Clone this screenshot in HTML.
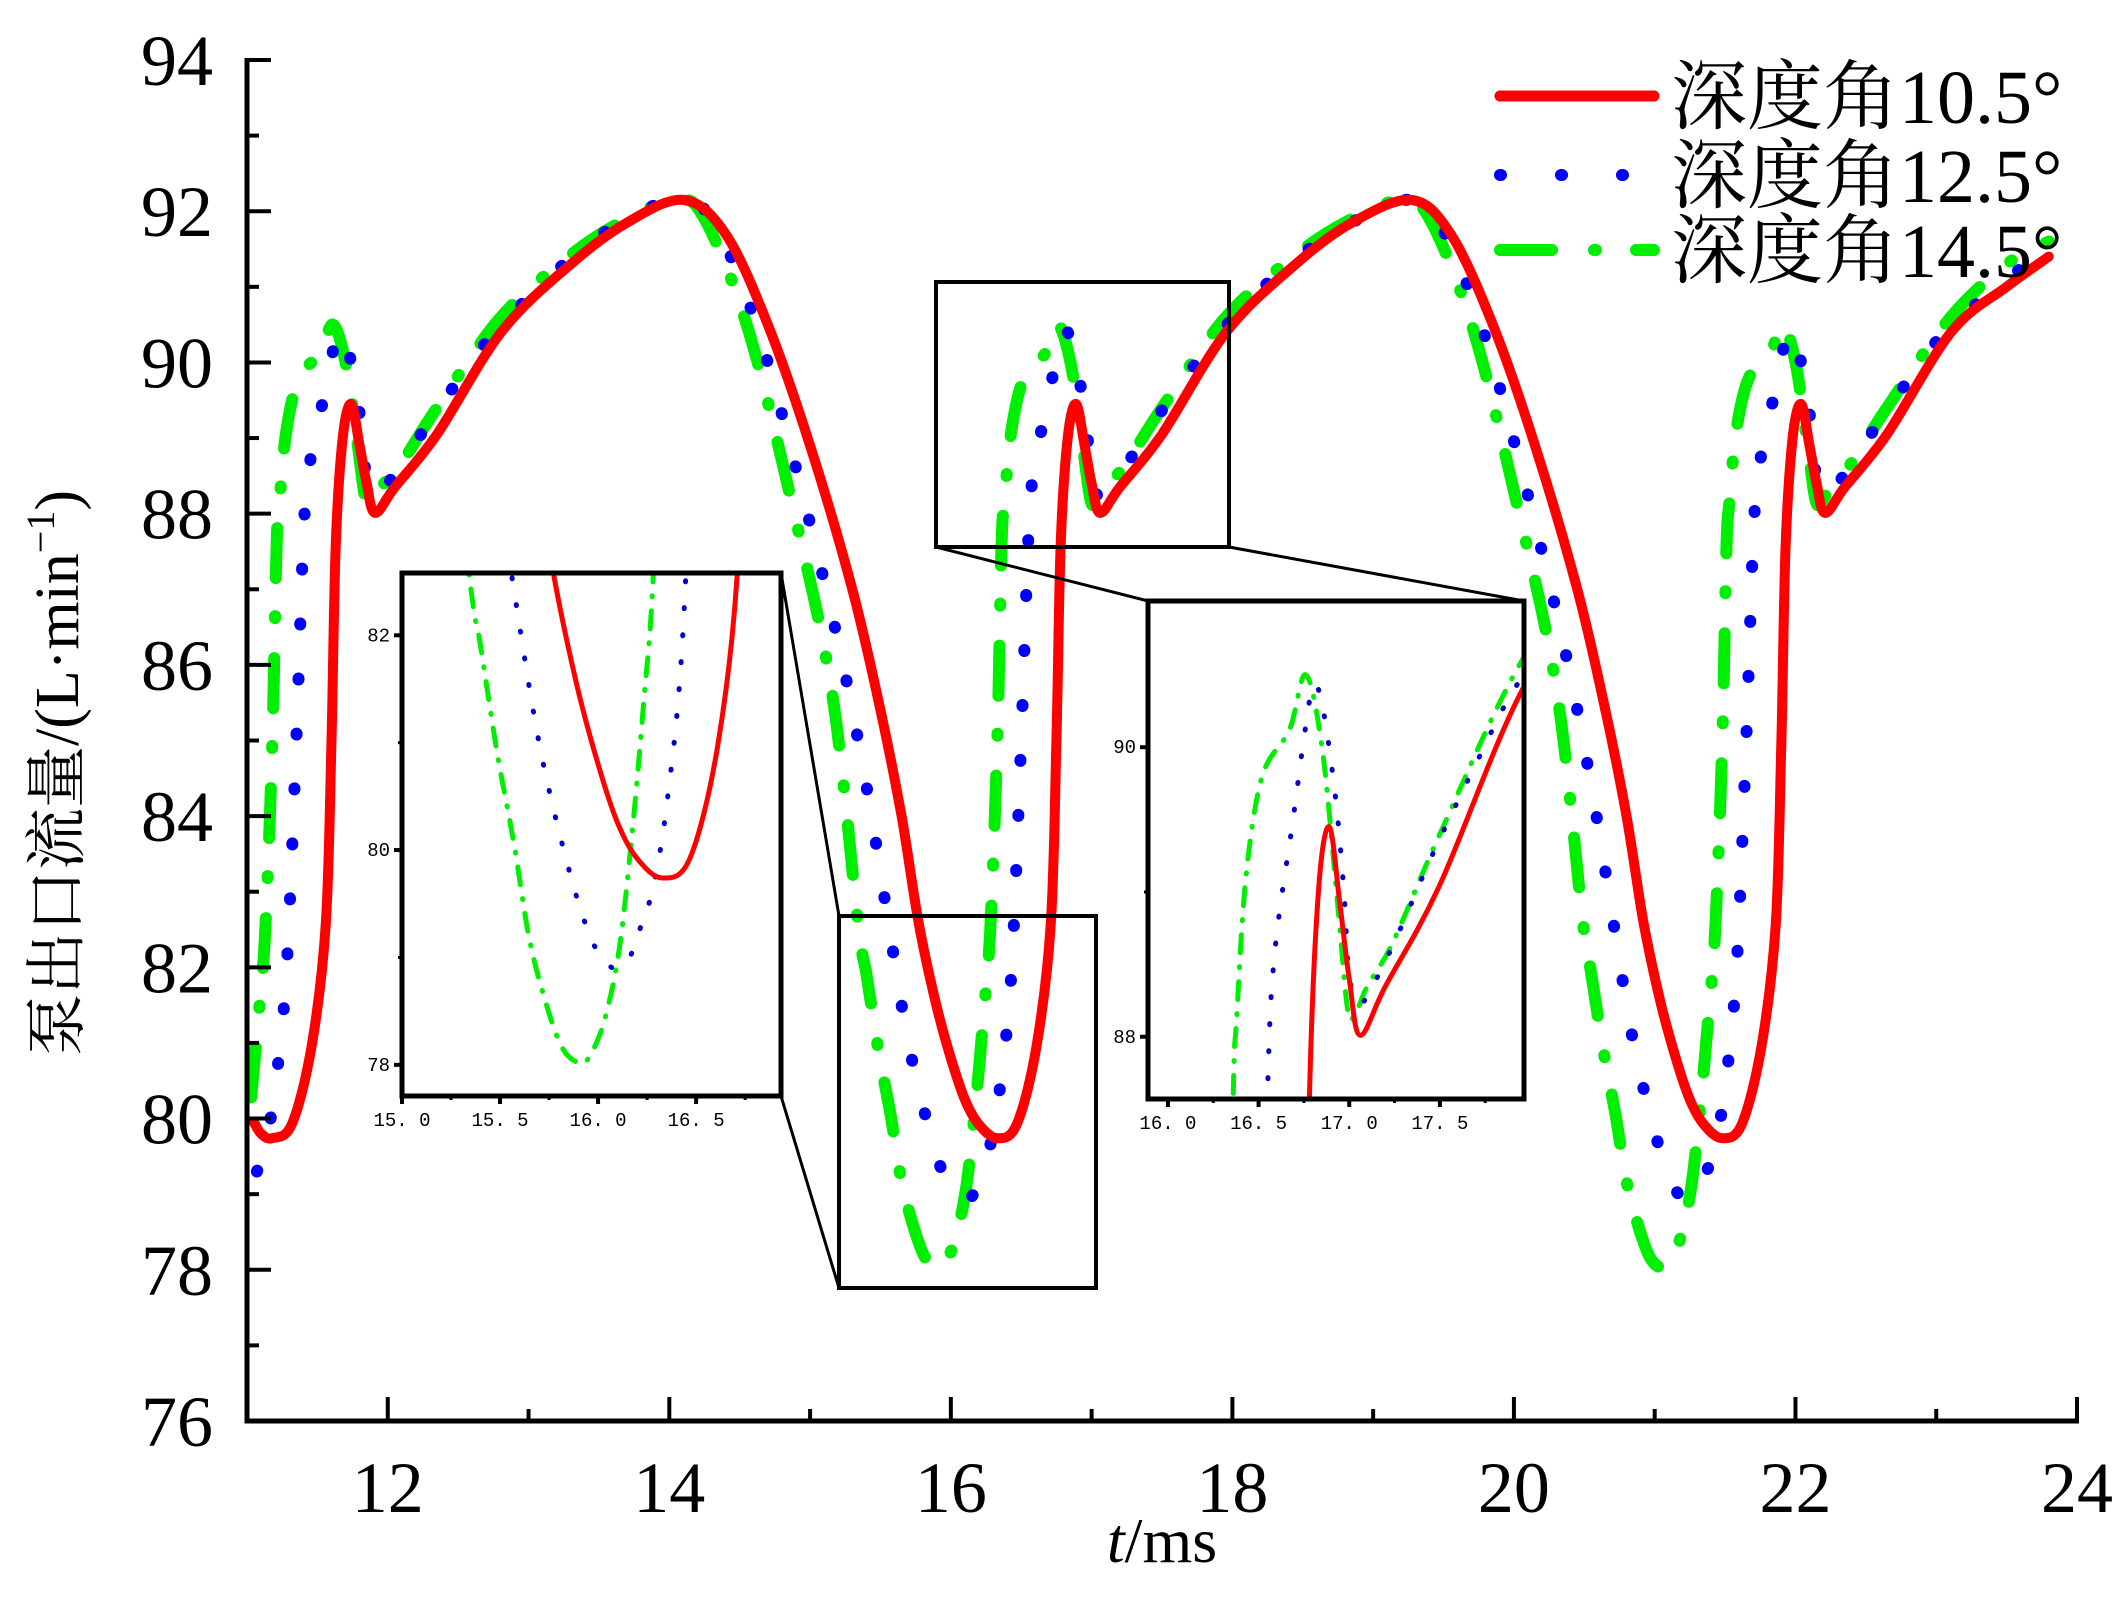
<!DOCTYPE html>
<html><head><meta charset="utf-8"><style>
html,body{margin:0;padding:0;background:#fff;overflow:hidden;width:2118px;height:1623px;}
svg{display:block;}
text{font-family:"Liberation Serif","Noto Serif CJK SC",serif;fill:#000;}
.mono{font-family:"Liberation Mono","Noto Sans CJK SC",monospace;}
</style></head><body>
<svg id="chart" width="2118" height="1623" viewBox="0 0 2118 1623" xmlns="http://www.w3.org/2000/svg">
<defs>
<clipPath id="clipMain"><rect x="247" y="20" width="1830" height="1401"/></clipPath>
<clipPath id="clipIn1"><rect x="402" y="573" width="379" height="523"/></clipPath>
<clipPath id="clipIn2"><rect x="1148" y="601" width="376" height="498"/></clipPath>
</defs>
<g id="main"></g>
<g id="boxes"></g>
<g id="inset1"></g>
<g id="inset2"></g>
<g id="legend"></g>
<text transform="translate(78,773) rotate(-90)" text-anchor="middle" font-size="62">泵出口流量/(L·min<tspan font-size="40" dy="-24">−1</tspan><tspan dy="24">)</tspan></text>
<text x="1162" y="1562" text-anchor="middle" font-size="64"><tspan font-style="italic">t</tspan>/ms</text>
</svg>
<script>
const xTicks = [12,14,16,18,20,22,24];
const yTicks = [76,78,80,82,84,86,88,90,92,94];
const seriesNames = ["深度角10.5°","深度角12.5°","深度角14.5°"];
const redT = [11.05,11.1,11.18,11.32,11.46,11.56,11.6,11.63,11.68,11.74,11.8,11.85,11.91,12.05,12.35,12.81,13.3,13.7,14.1,14.4,14.7,15.0,15.3,15.5,15.65,15.77,15.89,16.0,16.1,16.2,16.33,16.47,16.61,16.71,16.75,16.78,16.83,16.89,16.95,17.0,17.06,17.2,17.5,17.96,18.45,18.85,19.27,19.55,19.85,20.15,20.45,20.65,20.8,20.92,21.04,21.15,21.25,21.35,21.48,21.62,21.76,21.86,21.9,21.93,21.98,22.04,22.1,22.15,22.21,22.35,22.65,23.11,23.5,23.8];
const redV = [79.95,79.8,79.74,79.93,80.97,82.58,85,87.57,89.0,89.45,88.9,88.4,88.01,88.35,89.05,90.41,91.3,91.85,92.15,91.7,90.5,88.9,87.0,85.4,84.0,82.6,81.55,80.8,80.25,79.92,79.74,79.93,80.97,82.58,85,87.57,89.0,89.45,88.9,88.4,88.01,88.35,89.05,90.41,91.3,91.85,92.15,91.7,90.5,88.9,87.0,85.4,84.0,82.6,81.55,80.8,80.25,79.92,79.74,79.93,80.97,82.58,85,87.57,89.0,89.45,88.9,88.4,88.01,88.35,89.05,90.41,91.0,91.4];
const blueT = [11.07,11.13,11.2,11.28,11.35,11.4,11.44,11.54,11.6,11.65,11.7,11.77,11.82,11.85,11.91,12.0,12.13,12.31,12.57,12.78,13.25,13.65,14.05,14.3,14.6,14.9,15.2,15.4,15.56,15.67,15.755,15.86,15.94,16.0,16.08,16.16,16.22,16.28,16.35,16.43,16.5,16.55,16.59,16.69,16.75,16.8,16.85,16.92,16.97,17.0,17.06,17.15,17.28,17.46,17.72,17.93,18.4,18.85,19.22,19.45,19.75,20.05,20.35,20.55,20.71,20.82,20.905,21.01,21.09,21.15,21.23,21.31,21.37,21.43,21.5,21.58,21.65,21.7,21.74,21.84,21.9,21.95,22.0,22.07,22.12,22.15,22.21,22.3,22.43,22.61,22.87,23.08,23.5,23.8];
const blueV = [79.3,79.65,80.42,81.94,85.0,87.66,88.59,89.5,90.06,90.42,90.3,89.7,89.02,88.42,88.23,88.4,88.74,89.26,89.94,90.44,91.3,91.85,92.15,91.9,90.6,88.6,86.3,84.4,82.55,81.29,80.52,79.76,79.29,79.05,78.9,79.0,79.3,79.65,80.42,81.94,85.0,87.66,88.59,89.5,90.06,90.42,90.3,89.7,89.02,88.42,88.23,88.4,88.74,89.26,89.94,90.44,91.3,91.85,92.15,91.9,90.6,88.6,86.3,84.4,82.55,81.29,80.52,79.76,79.29,79.05,78.9,79.0,79.3,79.65,80.42,81.94,85.0,87.66,88.59,89.5,90.06,90.42,90.3,89.7,89.02,88.42,88.23,88.4,88.74,89.26,89.94,90.44,91.1,91.5];
const greenT = [11.03,11.08,11.13,11.18,11.21,11.23,11.28,11.37,11.52,11.61,11.7,11.78,11.84,11.88,11.95,12.09,12.35,12.79,13.25,13.65,14.05,14.25,14.55,14.85,15.15,15.34,15.4,15.485,15.57,15.65,15.74,15.82,15.9,15.95,16.03,16.11,16.18,16.23,16.28,16.33,16.36,16.38,16.43,16.52,16.67,16.76,16.85,16.93,16.99,17.03,17.1,17.24,17.5,17.94,18.4,18.8,19.2,19.4,19.7,20.0,20.3,20.49,20.55,20.635,20.72,20.8,20.89,20.97,21.05,21.1,21.18,21.26,21.33,21.38,21.43,21.48,21.51,21.53,21.58,21.67,21.82,21.91,22.0,22.08,22.14,22.18,22.25,22.39,22.65,23.09,23.5,23.8];
const greenV = [80.28,81.32,82.5,85.0,87.57,88.14,89.1,89.8,90.12,90.5,90.0,89.0,88.2,88.15,88.35,88.65,89.4,90.57,91.35,91.85,92.15,91.9,90.5,88.3,85.7,82.6,81.91,80.91,80.07,79.17,78.54,78.15,78.02,78.06,78.4,79.1,80.28,81.32,82.5,85.0,87.57,88.14,89.1,89.8,90.12,90.5,90.0,89.0,88.2,88.15,88.35,88.65,89.4,90.57,91.35,91.85,92.15,91.9,90.5,88.3,85.7,82.6,81.91,80.91,80.07,79.17,78.54,78.15,78.02,78.06,78.4,79.1,80.28,81.32,82.5,85.0,87.57,88.14,89.1,89.8,90.12,90.5,90.0,89.0,88.2,88.15,88.35,88.65,89.4,90.57,91.3,91.6];
const inset1XTicks = [15.0,15.5,16.0,16.5];
const inset1YTicks = [78,80,82];
const inset2XTicks = [16.0,16.5,17.0,17.5];
const inset2YTicks = [88,90];

const NS="http://www.w3.org/2000/svg";
function mk(tag,parent,attrs){const e=document.createElementNS(NS,tag);for(const k in attrs)e.setAttribute(k,attrs[k]);parent.appendChild(e);return e;}
function scale(d0,d1,r0,r1){return v=>r0+(v-d0)/(d1-d0)*(r1-r0);}
function pathD(ts,vs,sx,sy){
  const p=ts.map((t,i)=>[sx(t),sy(vs[i])]);
  let d="M"+p[0][0].toFixed(1)+","+p[0][1].toFixed(1);
  for(let i=0;i<p.length-1;i++){
    const p0=p[i-1]||p[i],p1=p[i],p2=p[i+1],p3=p[i+2]||p2;
    const c1=[p1[0]+(p2[0]-p0[0])/6,p1[1]+(p2[1]-p0[1])/6];
    const c2=[p2[0]-(p3[0]-p1[0])/6,p2[1]-(p3[1]-p1[1])/6];
    d+="C"+c1[0].toFixed(1)+","+c1[1].toFixed(1)+" "+c2[0].toFixed(1)+","+c2[1].toFixed(1)+" "+p2[0].toFixed(1)+","+p2[1].toFixed(1);
  }
  return d;
}
const seriesT=[redT,blueT,greenT], seriesV=[redV,blueV,greenV];
const colors=["#ff0000","#0000ff","#00ee00"];

const main=document.getElementById("main");
const X=scale(11,24,247,2077), Y=scale(76,94,1421,60);
const mainStyles=[{w:10,dash:null},{w:12,dash:"1 54"},{w:12,dash:"50 40 2 38"}];
const mclip=mk("g",main,{"clip-path":"url(#clipMain)"});
[2,1,0].forEach(i=>{
  const el=mk("path",mclip,{d:pathD(seriesT[i],seriesV[i],X,Y),fill:"none",stroke:colors[i],"stroke-width":mainStyles[i].w,"stroke-linecap":"round","stroke-linejoin":"round"});
  if(mainStyles[i].dash)el.setAttribute("stroke-dasharray",mainStyles[i].dash);
  
  
});
const ax=mk("g",main,{});


mk("path",ax,{d:"M247,58 V1421 H2079",fill:"none",stroke:"#000","stroke-width":5});
for(let v=76;v<=94;v++){const y=Y(v);const len=(v%2===0)?24:12;mk("line",ax,{x1:247,x2:247+len,y1:y,y2:y,stroke:"#000","stroke-width":4});}
for(let t=11;t<=24;t++){const x=X(t);const len=(t%2===0)?24:12;if(t>11)mk("line",ax,{x1:x,x2:x,y1:1421,y2:1421-len,stroke:"#000","stroke-width":4});}
yTicks.forEach(v=>{
  const tx=mk("text",ax,{x:213,y:Y(v)+25,"text-anchor":"end","font-size":72});
  tx.textContent=v;
  
  
});
xTicks.forEach(t=>{
  const tx=mk("text",ax,{x:X(t),y:1512,"text-anchor":"middle","font-size":72});
  tx.textContent=t;
  
  
});

const boxes=document.getElementById("boxes");
mk("rect",boxes,{x:839,y:916,width:257,height:372,fill:"none",stroke:"#000","stroke-width":4});
mk("rect",boxes,{x:936,y:282,width:293,height:265,fill:"none",stroke:"#000","stroke-width":4});
mk("line",boxes,{x1:781,y1:573,x2:839,y2:916,stroke:"#000","stroke-width":3});
mk("line",boxes,{x1:781,y1:1096,x2:839,y2:1288,stroke:"#000","stroke-width":3});
mk("line",boxes,{x1:936,y1:547,x2:1148,y2:601,stroke:"#000","stroke-width":3});
mk("line",boxes,{x1:1229,y1:547,x2:1524,y2:601,stroke:"#000","stroke-width":3});

function drawInset(g,clipId,bx,by,bw,bh,t0,t1,v0,v1,xt,yt,minorX,minorY){
  mk("rect",g,{x:bx,y:by,width:bw,height:bh,fill:"#fff"});
  const sx=scale(t0,t1,bx,bx+bw), sy=scale(v0,v1,by+bh,by);
  const cg=mk("g",g,{"clip-path":"url(#"+clipId+")"});
  const st=[{w:5,dash:null},{w:5,dash:"1 26"},{w:5,dash:"18 14 1 14"}];
  [2,1,0].forEach(i=>{
    const el=mk("path",cg,{d:pathD(seriesT[i],seriesV[i],sx,sy),fill:"none",stroke:i===1?"#0000cc":colors[i],"stroke-width":st[i].w,"stroke-linecap":"round","stroke-linejoin":"round"});
    if(st[i].dash)el.setAttribute("stroke-dasharray",st[i].dash);
    
    
  });
  mk("rect",g,{x:bx,y:by,width:bw,height:bh,fill:"none",stroke:"#000","stroke-width":5});
  minorX.forEach(t=>{const x=sx(t);mk("line",g,{x1:x,x2:x,y1:by+bh,y2:by+bh+4,stroke:"#000","stroke-width":3});});
  minorY.forEach(v=>{const y=sy(v);mk("line",g,{x1:bx,x2:bx-4,y1:y,y2:y,stroke:"#000","stroke-width":3});});
  xt.forEach(t=>{const x=sx(t);mk("line",g,{x1:x,x2:x,y1:by+bh,y2:by+bh+8,stroke:"#000","stroke-width":4});
    const tx=mk("text",g,{x:x,y:by+bh+30,"text-anchor":"middle","font-size":19,"class":"mono"});tx.textContent=t.toFixed(1).replace(".",". ");
    
    });
  yt.forEach(v=>{const y=sy(v);mk("line",g,{x1:bx,x2:bx-8,y1:y,y2:y,stroke:"#000","stroke-width":4});
    const tx=mk("text",g,{x:bx-12,y:y+6,"text-anchor":"end","font-size":19,"class":"mono"});tx.textContent=v;
    
    });
}
drawInset(document.getElementById("inset1"),"clipIn1",402,573,379,523,15.0,16.933,77.71,82.58,inset1XTicks,inset1YTicks,[15.25,15.75,16.25,16.75],[79,81]);
drawInset(document.getElementById("inset2"),"clipIn2",1148,601,376,498,15.89,17.964,87.57,91.01,inset2XTicks,inset2YTicks,[16.25,16.75,17.25,17.75],[89]);

const lg=document.getElementById("legend");
const rows=[96,175,250];
const lst=[{w:11,dash:null},{w:12,dash:"1 60"},{w:12,dash:"52 42 2 40"}];
rows.forEach((y,i)=>{
  const l=mk("line",lg,{x1:1500,x2:1654,y1:y,y2:y,stroke:colors[i],"stroke-width":lst[i].w,"stroke-linecap":"round"});
  if(lst[i].dash)l.setAttribute("stroke-dasharray",lst[i].dash);
  
  
  const tx=mk("text",lg,{x:1671,y:y+27,"font-size":76});
  tx.textContent=seriesNames[i];
  
  
});
</script>
</body></html>
